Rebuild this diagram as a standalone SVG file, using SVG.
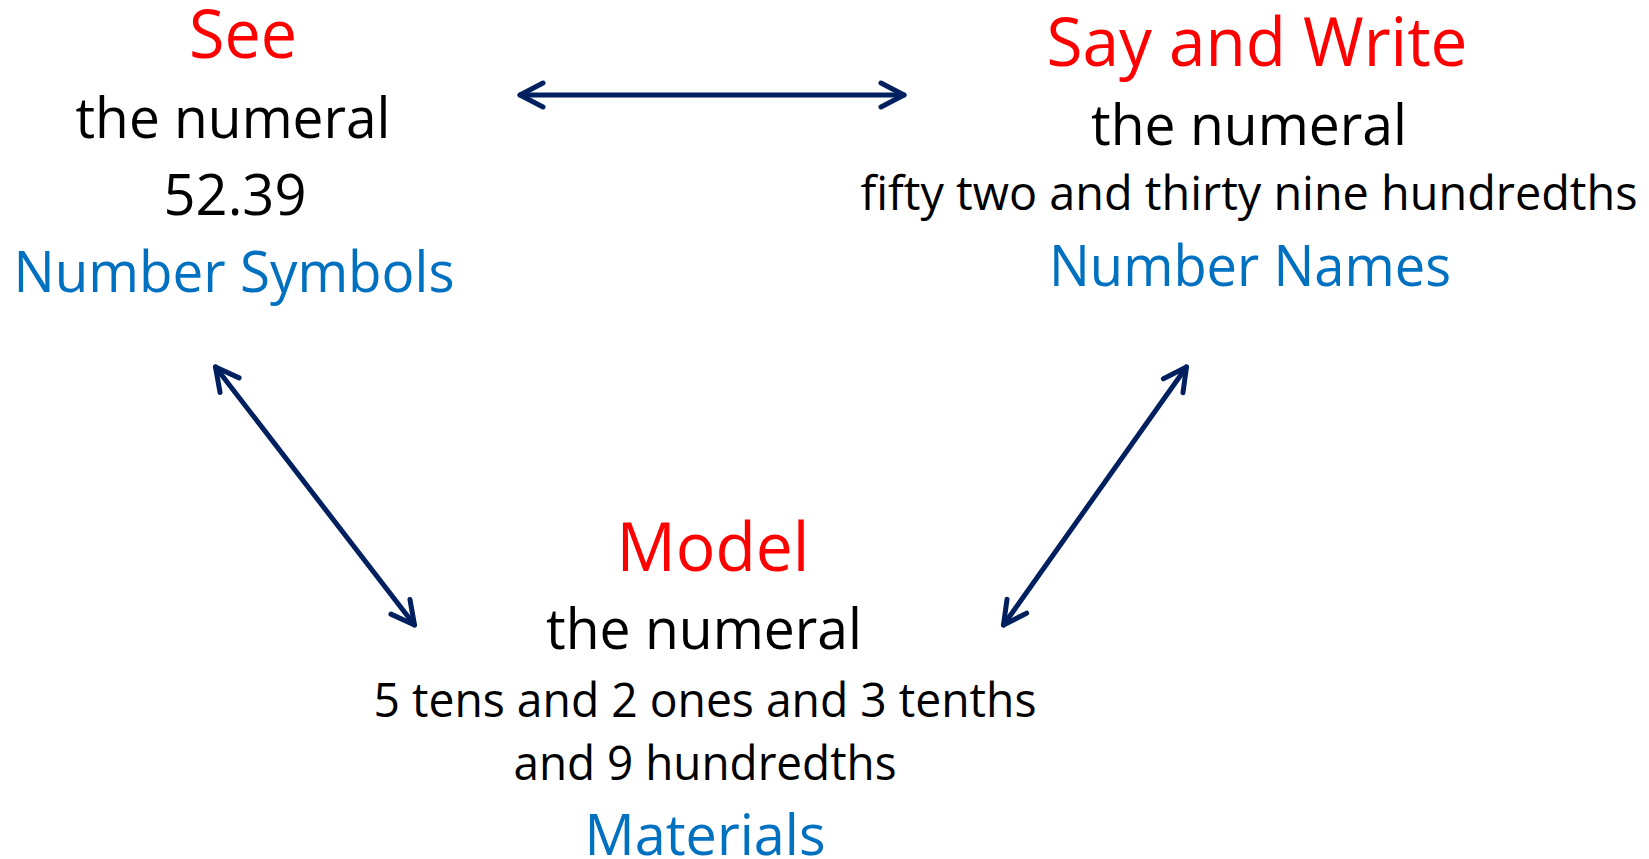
<svg xmlns="http://www.w3.org/2000/svg" width="1649" height="859" viewBox="0 0 1649 859">
  <style>
    text { font-family: "Open Sans", "Noto Sans", sans-serif; text-anchor: middle; }
    .title { font-size: 67px; fill: #FF0000; }
    .mid { font-size: 57px; fill: #000000; }
    .small { font-size: 47px; fill: #000000; }
    .label { font-size: 57px; fill: #0070C0; }
    .link { stroke: #002060; stroke-width: 5; fill: none; stroke-linecap: round;
            marker-start: url(#chev); marker-end: url(#chev); }
  </style>
  <defs>
    <!-- open chevron head used at both ends of every connector -->
    <marker id="chev" markerUnits="userSpaceOnUse" viewBox="-30 -16 34 32" refX="0" refY="0"
            markerWidth="34" markerHeight="32" orient="auto-start-reverse" overflow="visible">
      <path d="M -23 -12 L 0 0 L -23 12" fill="none" stroke="#002060" stroke-width="5"
            stroke-linecap="round" stroke-linejoin="round"/>
    </marker>
  </defs>

  <rect width="1649" height="859" fill="#FFFFFF"/>

  <g id="see">
    <text class="title" x="243" y="58" textLength="108" lengthAdjust="spacingAndGlyphs">See</text>
    <text class="mid" x="233" y="138" textLength="315" lengthAdjust="spacingAndGlyphs">the numeral</text>
    <text class="mid" x="235" y="215" textLength="143" lengthAdjust="spacingAndGlyphs">52.39</text>
    <text class="label" x="234" y="292" textLength="441" lengthAdjust="spacingAndGlyphs">Number Symbols</text>
  </g>

  <g id="say-write">
    <text class="title" x="1257" y="66" textLength="421" lengthAdjust="spacingAndGlyphs">Say and Write</text>
    <text class="mid" x="1249" y="145" textLength="316" lengthAdjust="spacingAndGlyphs">the numeral</text>
    <text class="small" x="1249" y="210" textLength="777" lengthAdjust="spacingAndGlyphs">fifty two and thirty nine hundredths</text>
    <text class="label" x="1250" y="286" textLength="402" lengthAdjust="spacingAndGlyphs">Number Names</text>
  </g>

  <g id="model">
    <text class="title" x="713" y="571" textLength="193" lengthAdjust="spacingAndGlyphs">Model</text>
    <text class="mid" x="704" y="649" textLength="316" lengthAdjust="spacingAndGlyphs">the numeral</text>
    <text class="small" x="705" y="717" textLength="663" lengthAdjust="spacingAndGlyphs">5 tens and 2 ones and 3 tenths</text>
    <text class="small" x="705" y="780" textLength="383" lengthAdjust="spacingAndGlyphs">and 9 hundredths</text>
    <text class="label" x="705" y="855" textLength="241" lengthAdjust="spacingAndGlyphs">Materials</text>
  </g>

  <g id="connectors">
    <line class="link" x1="520" y1="95" x2="904" y2="95"/>
    <line class="link" x1="215.5" y1="367" x2="414.5" y2="625"/>
    <line class="link" x1="1186.5" y1="367" x2="1003.5" y2="625"/>
  </g>
</svg>
